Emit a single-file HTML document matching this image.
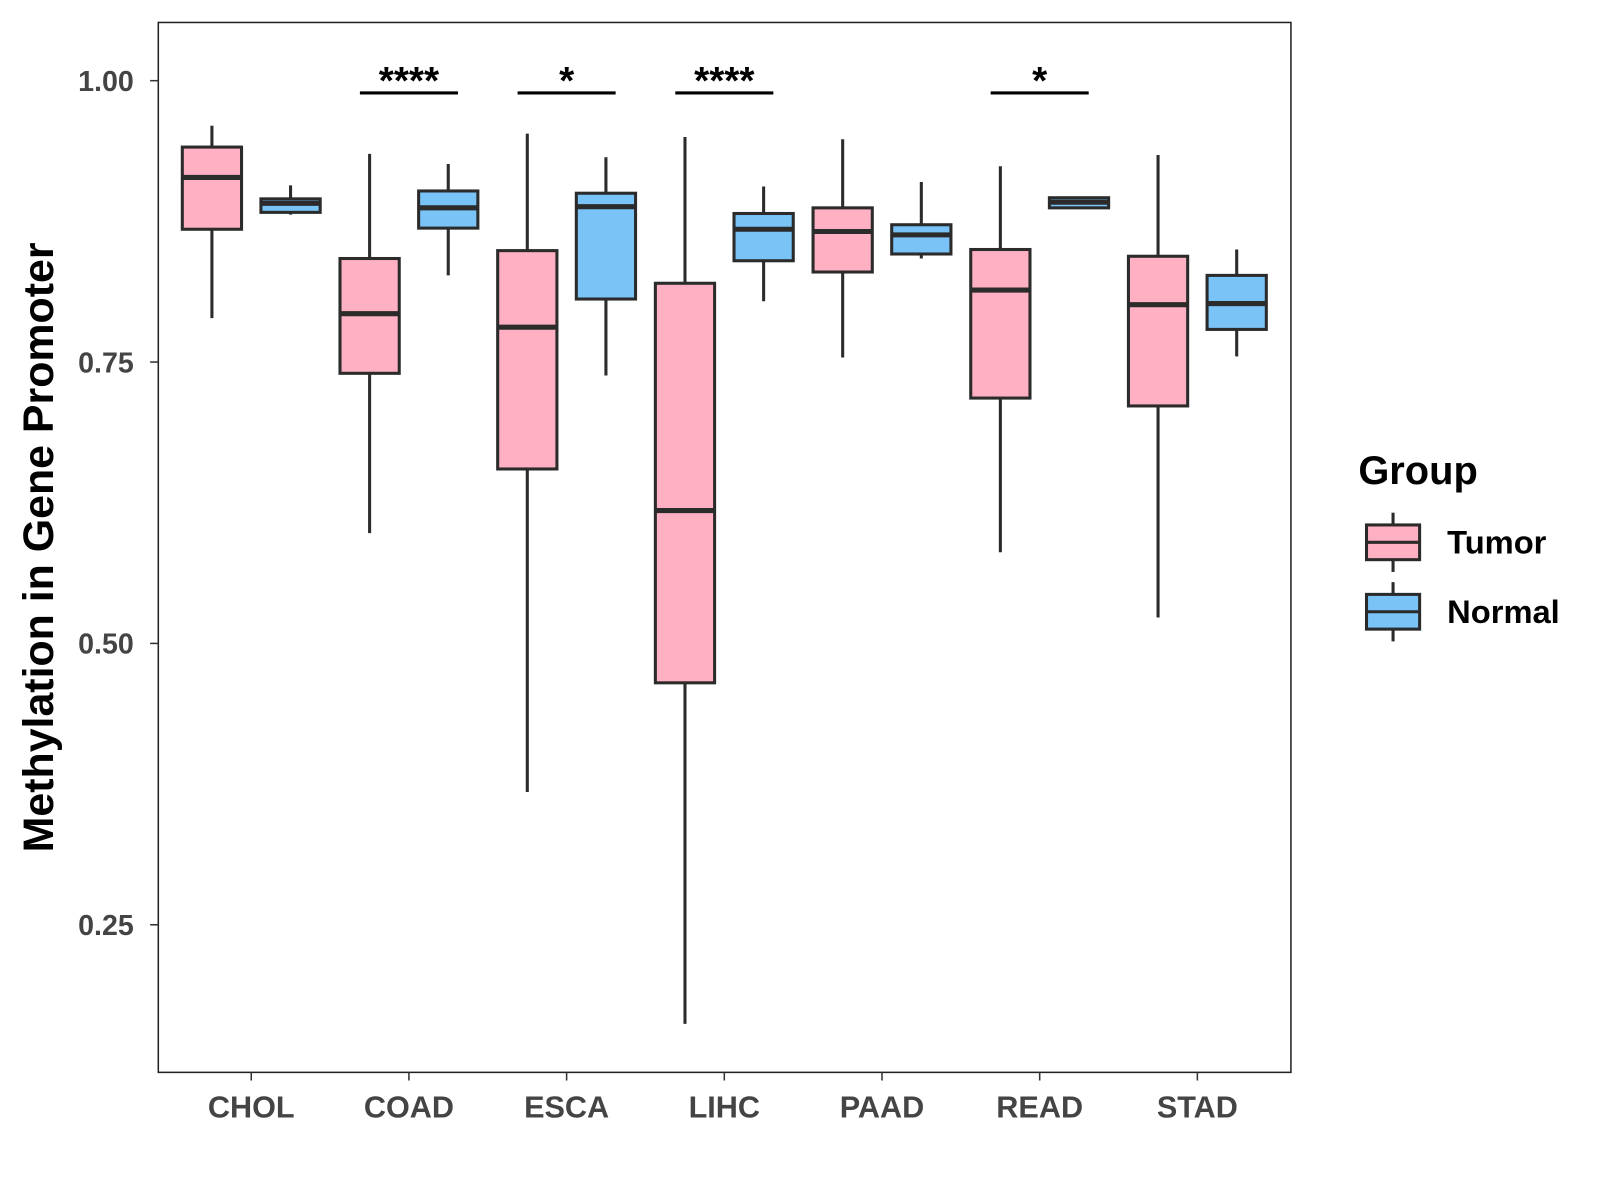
<!DOCTYPE html>
<html><head><meta charset="utf-8"><style>
html,body{margin:0;padding:0;background:#fff;}
svg{display:block;font-family:"Liberation Sans",Arial,sans-serif;}
</style></head><body>
<svg id="chart" width="1600" height="1200" viewBox="0 0 1600 1200"><g id="root" transform="scale(1.0213)"></g></svg>
<script>
const categories = ["CHOL","COAD","ESCA","LIHC","PAAD","READ","STAD"];
// [low, q1, median, q3, high]
const tumorStats = [
  [0.789,0.868,0.914,0.941,0.960],
  [0.598,0.740,0.793,0.842,0.935],
  [0.368,0.655,0.781,0.849,0.953],
  [0.162,0.465,0.618,0.820,0.950],
  [0.754,0.830,0.866,0.887,0.948],
  [0.581,0.718,0.814,0.850,0.924],
  [0.523,0.711,0.801,0.844,0.934]
];
const normalStats = [
  [0.881,0.883,0.891,0.895,0.907],
  [0.827,0.869,0.887,0.902,0.926],
  [0.738,0.806,0.888,0.900,0.932],
  [0.804,0.840,0.868,0.882,0.906],
  [0.842,0.846,0.863,0.872,0.910],
  [0.887,0.887,0.892,0.896,0.897],
  [0.755,0.779,0.802,0.827,0.850]
];
const sigLabels = ["","****","*","****","","*",""];
const yTicks = [0.25,0.50,0.75,1.00];

const NS="http://www.w3.org/2000/svg";
const svg=document.getElementById('root');
const L=155,R=1264,T=22,B=1050;
function y(v){return 79+(1-v)*1102;}
function x(i){return 246+i*154.4;}
function el(tag,attrs,parent){const e=document.createElementNS(NS,tag);for(const k in attrs)e.setAttribute(k,attrs[k]);(parent||svg).appendChild(e);return e;}

const frame=el('rect',{x:L,y:T,width:R-L,height:B-T,fill:'none',stroke:'#222','stroke-width':1.5});



yTicks.forEach(t=>{
  const g=el('g',{});
  
  
  el('line',{x1:L-8,x2:L,y1:y(t),y2:y(t),stroke:'#333','stroke-width':1.5},g);
  const tx=el('text',{x:L-24,y:y(t)+10,'text-anchor':'end','font-size':28,'font-weight':'bold',fill:'#444'},g);
  tx.textContent=t.toFixed(2);
});

function drawBox(cx,s,fill,name){
  const g=el('g',{});
  
  
  const w=58;
  el('line',{x1:cx,x2:cx,y1:y(s[0]),y2:y(s[1]),stroke:'#2b2b2b','stroke-width':3},g);
  el('line',{x1:cx,x2:cx,y1:y(s[3]),y2:y(s[4]),stroke:'#2b2b2b','stroke-width':3},g);
  el('rect',{x:cx-w/2,y:y(s[3]),width:w,height:Math.max(y(s[1])-y(s[3]),1),fill:fill,stroke:'#2b2b2b','stroke-width':3},g);
  el('line',{x1:cx-w/2,x2:cx+w/2,y1:y(s[2]),y2:y(s[2]),stroke:'#2b2b2b','stroke-width':5},g);
}

categories.forEach((c,i)=>{
  const cx=x(i);
  drawBox(cx-38.5,tumorStats[i],'#FFB0C2','tumor-box-'+c.toLowerCase());
  drawBox(cx+38.5,normalStats[i],'#79C3F7','normal-box-'+c.toLowerCase());
  const g=el('g',{});
  
  
  el('line',{x1:cx,x2:cx,y1:B,y2:B+8,stroke:'#333','stroke-width':1.5},g);
  const t=el('text',{x:cx,y:1094,'text-anchor':'middle','font-size':30,'font-weight':'bold',fill:'#444'},g);
  t.textContent=c;
  if(sigLabels[i]){
    const sg=el('g',{});
    
    
    el('line',{x1:cx-48,x2:cx+48,y1:91,y2:91,stroke:'#000','stroke-width':3},sg);
    const st=el('text',{x:cx,y:92,'text-anchor':'middle','font-size':38,'font-weight':'bold',fill:'#000'},sg);
    st.textContent=sigLabels[i];
  }
});

const yt=el('text',{x:0,y:0,transform:'translate(52,536) rotate(-90)','text-anchor':'middle','font-size':42,'font-weight':'bold',fill:'#000'});


yt.textContent='Methylation in Gene Promoter';

const lg=el('g',{});


const lt=el('text',{x:1330,y:474,'font-size':39,'font-weight':'bold',fill:'#000'},lg);
lt.textContent='Group';
[['Tumor','#FFB0C2',531],['Normal','#79C3F7',599]].forEach(([n,f,cy])=>{
  const g=el('g',{},lg);
  
  
  el('line',{x1:1364,x2:1364,y1:cy-29,y2:cy+29,stroke:'#2b2b2b','stroke-width':3},g);
  el('rect',{x:1338,y:cy-17,width:52,height:34,fill:f,stroke:'#2b2b2b','stroke-width':3},g);
  el('line',{x1:1338,x2:1390,y1:cy,y2:cy,stroke:'#2b2b2b','stroke-width':3},g);
  const t=el('text',{x:1417,y:cy+11,'font-size':32,'font-weight':'bold',fill:'#000'},g);
  t.textContent=n;
});
</script>
</body></html>
